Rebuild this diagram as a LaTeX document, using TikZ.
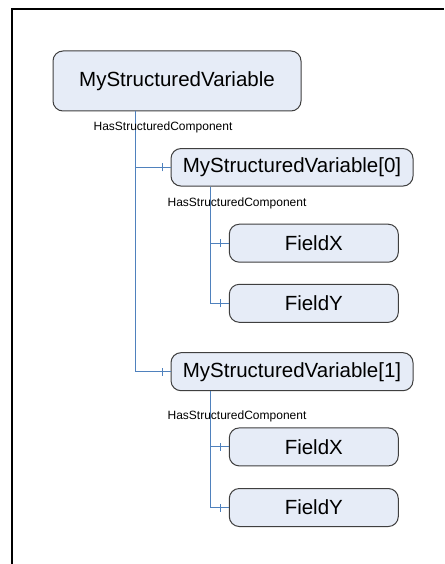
\documentclass[tikz,border=0pt]{standalone}
\usepackage{fontspec}
\setmainfont{Liberation Sans}
\definecolor{boxfill}{HTML}{E6ECF7}
\definecolor{boxline}{HTML}{3F3F3F}
\definecolor{connblue}{HTML}{4F81BD}
\tikzset{
  varbox/.style={draw=boxline, line width=1pt, fill=boxfill, rounded corners=10pt,
    inner sep=0pt, font=\fontsize{20.5}{24}\selectfont, align=center},
  conn/.style={draw=connblue, line width=1pt},
  reflabel/.style={inner sep=0pt, font=\fontsize{12}{14}\selectfont},
  frameline/.style={draw=black, line width=2pt}
}
\begin{document}
\begin{tikzpicture}[x=1pt, y=-1pt]
\useasboundingbox (0,0) rectangle (444,564);
\fill[white] (0,0) rectangle (444,564);
\coordinate (fbl) at (12.3,564);
\coordinate (ftl) at (12.3,9.3);
\coordinate (ftr) at (444,9.3);
\draw[frameline] (fbl) -- (ftl) -- (ftr);

\node[varbox, minimum width=248pt, minimum height=60pt] (root) at (177,81) {MyStructuredVariable};
\node[varbox, minimum width=242pt, minimum height=37.5pt] (v0) at (292,167.3) {MyStructuredVariable[0]};
\node[varbox, minimum width=169pt, minimum height=38pt] (fx0) at (313.8,243.2) {FieldX};
\node[varbox, minimum width=169pt, minimum height=38pt] (fy0) at (313.8,303.3) {FieldY};
\node[varbox, minimum width=242pt, minimum height=38pt] (v1) at (292,371.7) {MyStructuredVariable[1]};
\node[varbox, minimum width=169pt, minimum height=38pt] (fx1) at (313.8,446.9) {FieldX};
\node[varbox, minimum width=169pt, minimum height=38pt] (fy1) at (313.8,507.5) {FieldY};

\coordinate (r0) at ([xshift=82.5pt]root.south west);
\coordinate (c0) at ([xshift=40.3pt]v0.south west);
\coordinate (c1) at ([xshift=40.3pt]v1.south west);

\draw[conn] (r0) |- (v1.west);
\draw[conn] (r0) |- (v0.west);
\draw[conn] (c0) |- (fy0.west);
\draw[conn] (c0) |- (fx0.west);
\draw[conn] (c1) |- (fy1.west);
\draw[conn] (c1) |- (fx1.west);

\foreach \n in {v0,v1,fx0,fy0,fx1,fy1}{
  \draw[conn] ([xshift=-8pt,yshift=-4pt]\n.west) -- ([xshift=-8pt,yshift=4pt]\n.west);
}

\node[reflabel] (l0) at (163,127.5) {HasStructuredComponent};
\node[reflabel] (l1) at (237,203.3) {HasStructuredComponent};
\node[reflabel] (l2) at (237,416) {HasStructuredComponent};
\end{tikzpicture}
\end{document}
